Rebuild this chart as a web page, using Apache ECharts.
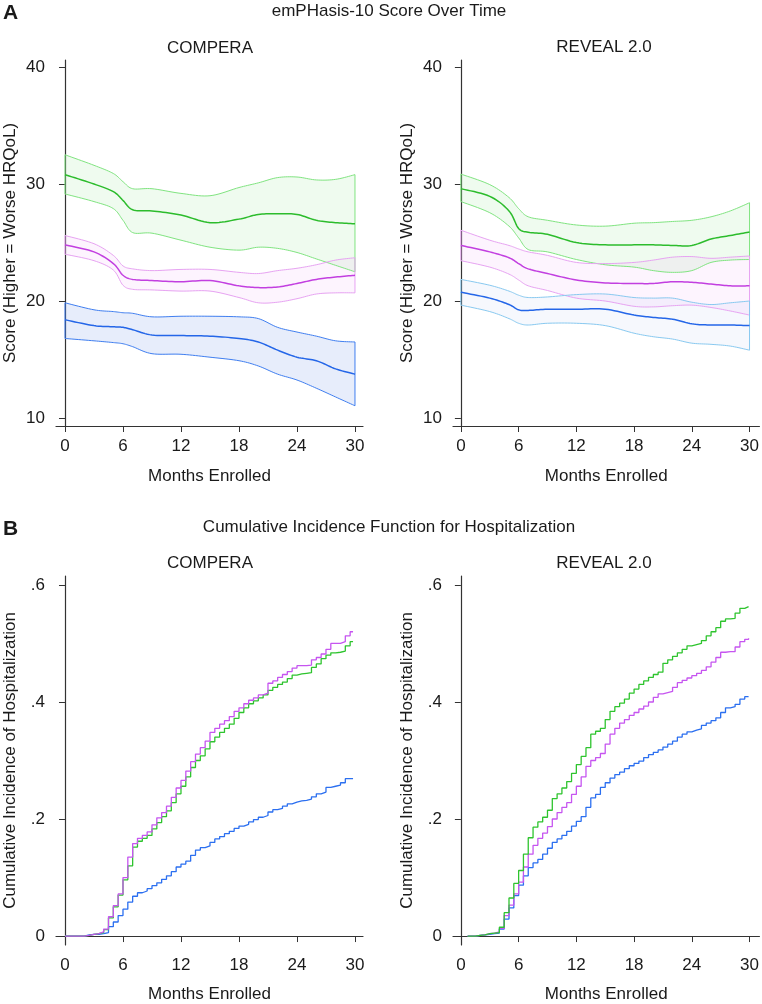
<!DOCTYPE html>
<html><head><meta charset="utf-8">
<script src="https://cdn.jsdelivr.net/npm/echarts@6/dist/echarts.min.js"></script>
<style>html,body{margin:0;padding:0;background:#fff}#c{width:762px;height:1004px}</style>
</head><body><div id="c"></div><script>
// ---------- DATA ----------
const xTicks = [0, 6, 12, 18, 24, 30];
const yTicksA = [10, 20, 30, 40];
const yTicksB = [0, 0.2, 0.4, 0.6];

// Panel A: emPHasis-10 score (lower CI, estimate, upper CI)
const monthsA = [0, 3, 5, 6, 7, 9, 12, 15, 18, 20, 22, 24, 26, 28, 30];

const compGreenU = [32.5, 31.6, 30.9, 30.2, 29.6, 29.6, 29.2, 29.0, 29.7, 30.1, 30.55, 30.6, 30.35, 30.4, 30.8];
const compGreenM = [30.8, 30.0, 29.35, 28.6, 27.8, 27.7, 27.35, 26.7, 27.0, 27.4, 27.45, 27.4, 26.9, 26.7, 26.6];
const compGreenL = [29.15, 28.5, 27.9, 26.9, 25.85, 25.8, 25.2, 24.6, 24.35, 24.6, 24.5, 24.15, 23.6, 23.05, 22.5];
const compMagU = [25.6, 24.9, 23.9, 23.0, 22.75, 22.6, 22.7, 22.7, 22.45, 22.35, 22.6, 22.8, 23.1, 23.5, 23.7];
const compMagM = [24.8, 24.2, 23.2, 22.2, 21.85, 21.75, 21.65, 21.75, 21.3, 21.15, 21.2, 21.5, 21.85, 22.05, 22.2];
const compMagL = [24.0, 23.45, 22.65, 21.35, 21.0, 20.95, 20.85, 20.85, 20.3, 19.85, 19.9, 20.2, 20.6, 20.7, 20.7];
const compBlueU = [19.85, 19.25, 19.1, 19.0, 18.95, 18.65, 18.7, 18.7, 18.65, 18.5, 17.75, 17.35, 17.0, 16.6, 16.5];
const compBlueM = [18.4, 17.9, 17.8, 17.75, 17.55, 17.1, 17.05, 17.0, 16.8, 16.5, 15.8, 15.2, 14.9, 14.2, 13.75];
const compBlueL = [16.8, 16.6, 16.45, 16.35, 16.1, 15.5, 15.45, 15.2, 14.9, 14.45, 13.75, 13.25, 12.55, 11.8, 11.05];

const revGreenU = [30.85, 29.95, 28.85, 27.9, 27.2, 26.9, 26.5, 26.4, 26.65, 26.7, 26.8, 26.9, 27.2, 27.7, 28.4];
const revGreenM = [29.6, 28.95, 27.7, 26.2, 25.88, 25.7, 25.0, 24.8, 24.8, 24.8, 24.75, 24.75, 25.3, 25.6, 25.9];
const revGreenL = [28.5, 27.55, 26.4, 25.4, 24.4, 24.2, 23.55, 23.1, 22.9, 22.6, 22.45, 22.6, 23.3, 23.5, 23.55];
const revMagU = [26.05, 25.2, 24.75, 24.45, 24.2, 23.9, 23.3, 23.2, 23.3, 23.5, 23.75, 23.8, 23.65, 23.75, 23.85];
const revMagM = [24.75, 24.2, 23.7, 23.2, 22.75, 22.35, 21.8, 21.55, 21.5, 21.5, 21.65, 21.6, 21.45, 21.3, 21.3];
const revMagL = [23.45, 22.9, 22.3, 21.8, 21.3, 20.9, 20.25, 20.0, 19.55, 19.5, 19.6, 19.65, 19.45, 19.15, 18.8];
const revBlueU = [21.85, 21.35, 20.85, 20.5, 20.3, 20.35, 20.55, 20.6, 20.3, 20.25, 20.25, 19.9, 19.7, 19.85, 20.0];
const revBlueM = [20.75, 20.25, 19.7, 19.25, 19.2, 19.3, 19.3, 19.3, 18.8, 18.6, 18.45, 18.05, 17.95, 17.95, 17.9];
const revBlueL = [19.65, 19.1, 18.5, 18.1, 17.95, 18.1, 18.1, 17.9, 17.25, 16.95, 16.75, 16.4, 16.3, 16.15, 15.8];

// Panel B: cumulative incidence of hospitalization
const monthsBL = [0,0.5,1,1.5,2,2.5,3,3.5,4,4.5,5,5.5,6,6.5,7,7.5,8,8.5,9,9.5,10,10.5,11,11.5,12,12.5,13,13.5,14,14.5,15,15.5,16,16.5,17,17.5,18,18.5,19,19.5,20,20.5,21,21.5,22,22.5,23,23.5,24,24.5,25,25.5,26,26.5,27,27.5,28,28.5,29,29.5,29.8];
const compBlueCIF = [0,0,0,0,0.002,0.003,0.003,0.004,0.006,0.016,
  0.024,0.035,0.046,0.058,0.068,0.074,0.077,0.081,0.086,0.091,
  0.097,0.103,0.110,0.118,0.123,0.128,0.138,0.147,0.151,0.154,
  0.160,0.166,0.170,0.175,0.179,0.184,0.188,0.191,0.195,0.199,
  0.203,0.206,0.212,0.216,0.218,0.222,0.226,0.229,0.231,0.232,
  0.234,0.238,0.243,0.246,0.254,0.256,0.258,0.262,0.269,0.269,0.270];
const compMagCIF = [0,0,0,0,0.001,0.003,0.004,0.007,0.012,0.033,
  0.052,0.072,0.100,0.135,0.158,0.167,0.172,0.178,0.190,0.202,
  0.211,0.222,0.237,0.253,0.266,0.282,0.298,0.311,0.322,0.333,
  0.348,0.355,0.362,0.368,0.375,0.384,0.390,0.397,0.403,0.407,
  0.412,0.415,0.432,0.436,0.442,0.447,0.452,0.458,0.462,0.462,
  0.463,0.472,0.476,0.482,0.490,0.500,0.500,0.503,0.513,0.520,0.520];
const compGreenCIF = [0,0,0,0,0.001,0.003,0.004,0.006,0.011,0.031,
  0.050,0.070,0.096,0.120,0.152,0.162,0.167,0.172,0.183,0.194,
  0.204,0.214,0.228,0.243,0.256,0.272,0.288,0.300,0.308,0.320,
  0.332,0.340,0.348,0.355,0.362,0.372,0.382,0.390,0.397,0.402,
  0.407,0.412,0.420,0.425,0.430,0.434,0.440,0.446,0.448,0.449,
  0.450,0.459,0.465,0.474,0.480,0.484,0.485,0.487,0.496,0.503,0.503];

const monthsBR = [0.7,1,1.5,2,2.5,3,3.5,4,4.5,5,5.5,6,6.5,7,7.5,8,8.5,9,9.5,10,10.5,11,11.5,12,12.5,13,13.5,14,14.5,15,15.5,16,16.5,17,17.5,18,18.5,19,19.5,20,20.5,21,21.5,22,22.5,23,23.5,24,24.5,25,25.5,26,26.5,27,27.5,28,28.5,29,29.5,29.9];
const revGreenCIF = [0,0,0.001,0.002,0.004,0.005,0.006,0.015,0.040,0.065,
  0.090,0.112,0.140,0.168,0.186,0.195,0.203,0.215,0.235,0.243,
  0.253,0.264,0.278,0.293,0.307,0.322,0.345,0.350,0.355,0.370,
  0.384,0.392,0.398,0.405,0.415,0.422,0.430,0.436,0.442,0.447,
  0.451,0.466,0.472,0.478,0.484,0.490,0.496,0.498,0.500,0.505,
  0.513,0.520,0.527,0.538,0.542,0.543,0.552,0.560,0.563,0.564];
const revMagCIF = [0,0,0.001,0.002,0.004,0.005,0.007,0.013,0.035,0.053,
  0.072,0.092,0.118,0.140,0.155,0.167,0.176,0.187,0.200,0.211,
  0.220,0.228,0.242,0.256,0.272,0.290,0.300,0.305,0.312,0.328,
  0.345,0.355,0.364,0.370,0.377,0.382,0.388,0.393,0.400,0.408,
  0.414,0.416,0.418,0.425,0.433,0.437,0.441,0.445,0.449,0.454,
  0.460,0.468,0.476,0.485,0.486,0.486,0.494,0.503,0.507,0.509];
const revBlueCIF = [0,0,0.001,0.002,0.003,0.004,0.005,0.012,0.029,0.048,
  0.069,0.087,0.103,0.117,0.125,0.131,0.140,0.150,0.160,0.166,
  0.172,0.179,0.188,0.196,0.204,0.220,0.236,0.242,0.254,0.262,
  0.270,0.276,0.280,0.286,0.291,0.295,0.299,0.305,0.310,0.314,
  0.318,0.323,0.328,0.333,0.340,0.345,0.349,0.352,0.354,0.360,
  0.364,0.368,0.373,0.382,0.390,0.392,0.396,0.405,0.409,0.409];

// ---------- STYLE ----------
const FONT = "'Liberation Sans', Arial, Helvetica, sans-serif";
const TXT = '#1a1a1a';
const AX = '#333';
const C = {
  gMid: '#2cbc2c', gBnd: '#80e480', gFill: 'rgba(100,215,100,0.10)',
  mMid: '#c23fe0', mBnd: '#e7a3f2', mFill: 'rgba(225,120,240,0.08)',
  bMid: '#2466e8', bBndL: '#3f7ef0', bBndR: '#88c9f0',
  bFillL: 'rgba(60,110,220,0.12)', bFillR: 'rgba(100,130,220,0.06)',
  cG: '#2ec42e', cM: '#c655f0', cB: '#2b6ff0'
};

const zip = (xs, ys) => xs.map((x, i) => [x, ys[i]]);

function xAxis(gi, min, max, gap) {
  return {
    type: 'value', gridIndex: gi, min: min, max: max,
    name: 'Months Enrolled', nameLocation: 'middle', nameGap: gap,
    nameTextStyle: { fontFamily: FONT, fontSize: 17, color: TXT },
    axisLine: { show: true, lineStyle: { color: AX, width: 1.2 } },
    axisTick: { show: true, length: 6, customValues: xTicks, lineStyle: { color: AX } },
    axisLabel: { customValues: xTicks, margin: 12, fontFamily: FONT, fontSize: 17, color: TXT },
    splitLine: { show: false }
  };
}
function yAxis(gi, min, max, ticks, name, fmt) {
  return {
    type: 'value', gridIndex: gi, min: min, max: max,
    name: name, nameLocation: 'middle', nameGap: 37,
    nameTextStyle: { fontFamily: FONT, fontSize: 17, color: TXT },
    axisLine: { show: true, lineStyle: { color: AX, width: 1.2 } },
    axisTick: { show: true, length: 6, customValues: ticks, lineStyle: { color: AX } },
    axisLabel: { customValues: ticks, margin: 11, fontFamily: FONT, fontSize: 17, color: TXT, formatter: fmt },
    splitLine: { show: false }
  };
}

// Catmull-Rom smoothing of pixel points (rendering only)
function spline(P, n) {
  n = n || 10;
  const out = [];
  for (let i = 0; i < P.length - 1; i++) {
    const p0 = P[i - 1] || P[i], p1 = P[i], p2 = P[i + 1], p3 = P[i + 2] || P[i + 1];
    for (let k = 0; k < n; k++) {
      const t = k / n, t2 = t * t, t3 = t2 * t;
      const f = (a, b, c, d) => 0.5 * (2 * b + (-a + c) * t + (2 * a - 5 * b + 4 * c - d) * t2 + (-a + 3 * b - 3 * c + d) * t3);
      out.push([f(p0[0], p1[0], p2[0], p3[0]), f(p0[1], p1[1], p2[1], p3[1])]);
    }
  }
  out.push(P[P.length - 1]);
  return out;
}

function bandFill(ai, months, lo, up, fill) {
  return {
    type: 'custom', xAxisIndex: ai, yAxisIndex: ai, data: [[months[0], lo[0]]], silent: true, z: 1, clip: false,
    renderItem: (params, api) => {
      const U = spline(months.map((m, i) => api.coord([m, up[i]])));
      const L = spline(months.map((m, i) => api.coord([m, lo[i]])));
      return { type: 'polygon', shape: { points: U.concat(L.slice().reverse()) }, style: { fill: fill, stroke: null } };
    }
  };
}
function bandLines(ai, months, lo, mid, up, bnd, midC) {
  return {
    type: 'custom', xAxisIndex: ai, yAxisIndex: ai, data: [[months[0], mid[0]]], silent: true, z: 3, clip: false,
    renderItem: (params, api) => {
      const U = months.map((m, i) => api.coord([m, up[i]]));
      const L = months.map((m, i) => api.coord([m, lo[i]]));
      const M = months.map((m, i) => api.coord([m, mid[i]]));
      const n = months.length - 1;
      const ls = (c, w) => ({ stroke: c, lineWidth: w, fill: null });
      return { type: 'group', children: [
        { type: 'polyline', shape: { points: spline(U) }, style: ls(bnd, 1) },
        { type: 'polyline', shape: { points: spline(L) }, style: ls(bnd, 1) },
        { type: 'line', shape: { x1: U[0][0], y1: U[0][1], x2: L[0][0], y2: L[0][1] }, style: ls(bnd, 1) },
        { type: 'line', shape: { x1: U[n][0], y1: U[n][1], x2: L[n][0], y2: L[n][1] }, style: ls(bnd, 1) },
        { type: 'polyline', shape: { points: spline(M) }, style: ls(midC, 1.5) }
      ] };
    }
  };
}
function cif(ai, months, vals, color) {
  return { type: 'line', xAxisIndex: ai, yAxisIndex: ai, data: zip(months, vals), step: 'end',
    symbol: 'none', silent: true, lineStyle: { color: color, width: 1.3 } };
}

const fmtB = v => (v === 0 ? '0' : String(+v.toFixed(1)).replace(/^0/, ''));

const txt = (x, y, text, opts) => ({ type: 'text', x: x, y: y, silent: true,
  style: Object.assign({ text: text, fontFamily: FONT, fontSize: 17, fill: TXT, align: 'center', verticalAlign: 'middle' }, opts || {}) });

const chart = echarts.init(document.getElementById('c'), null, { renderer: 'canvas' });
chart.setOption({
  animation: false,
  backgroundColor: '#fff',
  grid: [
    { left: 56, top: 60, width: 307, height: 366 },
    { left: 453, top: 60, width: 309, height: 366 },
    { left: 56, top: 576, width: 307, height: 370 },
    { left: 453, top: 576, width: 309, height: 370 }
  ],
  xAxis: [xAxis(0, -0.93, 30.83, 42), xAxis(1, -0.82, 31.03, 42), xAxis(2, -0.93, 30.83, 41), xAxis(3, -0.82, 31.03, 41)],
  yAxis: [
    yAxis(0, 9.32, 40.6, yTicksA, 'Score (Higher = Worse HRQoL)'),
    yAxis(1, 9.32, 40.6, yTicksA, 'Score (Higher = Worse HRQoL)'),
    yAxis(2, -0.0153, 0.6153, yTicksB, 'Cumulative Incidence of Hospitalization', fmtB),
    yAxis(3, -0.0153, 0.6153, yTicksB, 'Cumulative Incidence of Hospitalization', fmtB)
  ],
  graphic: [
    txt(3, 13, 'A', { align: 'left', fontWeight: 'bold', fontSize: 21 }),
    txt(389, 11, 'emPHasis-10 Score Over Time'),
    txt(210, 48, 'COMPERA'),
    txt(604, 47, 'REVEAL 2.0'),
    txt(3, 529, 'B', { align: 'left', fontWeight: 'bold', fontSize: 21 }),
    txt(389, 527, 'Cumulative Incidence Function for Hospitalization'),
    txt(210, 563, 'COMPERA'),
    txt(604, 563, 'REVEAL 2.0')
  ],
  series: [
    bandFill(0, monthsA, compGreenL, compGreenU, C.gFill),
    bandFill(0, monthsA, compMagL, compMagU, C.mFill),
    bandFill(0, monthsA, compBlueL, compBlueU, C.bFillL),
    bandFill(1, monthsA, revGreenL, revGreenU, C.gFill),
    bandFill(1, monthsA, revMagL, revMagU, C.mFill),
    bandFill(1, monthsA, revBlueL, revBlueU, C.bFillR),
    bandLines(0, monthsA, compGreenL, compGreenM, compGreenU, C.gBnd, C.gMid),
    bandLines(0, monthsA, compMagL, compMagM, compMagU, C.mBnd, C.mMid),
    bandLines(0, monthsA, compBlueL, compBlueM, compBlueU, C.bBndL, C.bMid),
    bandLines(1, monthsA, revGreenL, revGreenM, revGreenU, C.gBnd, C.gMid),
    bandLines(1, monthsA, revMagL, revMagM, revMagU, C.mBnd, C.mMid),
    bandLines(1, monthsA, revBlueL, revBlueM, revBlueU, C.bBndR, C.bMid),
    cif(2, monthsBL, compBlueCIF, C.cB), cif(2, monthsBL, compGreenCIF, C.cG), cif(2, monthsBL, compMagCIF, C.cM),
    cif(3, monthsBR, revBlueCIF, C.cB), cif(3, monthsBR, revMagCIF, C.cM), cif(3, monthsBR, revGreenCIF, C.cG)
  ]
});
</script></body></html>
